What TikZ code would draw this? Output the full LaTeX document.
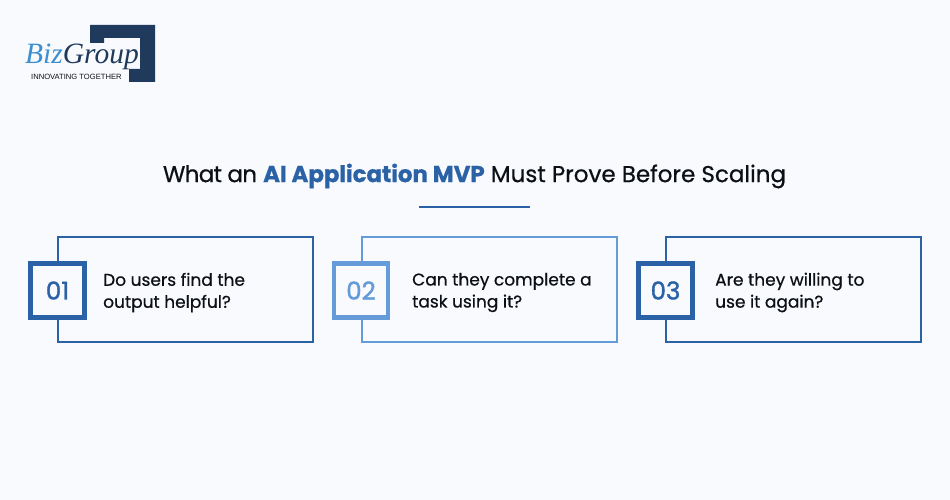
\documentclass[tikz,border=0pt]{standalone}
\usepackage{fontspec}
\setmainfont{Poppins}
\newfontfamily\logofont{Liberation Serif}
\newfontfamily\logosans{Liberation Sans}
\definecolor{bgc}{HTML}{F8FAFD}
\definecolor{midblue}{HTML}{2B62A6}
\definecolor{lightblue}{HTML}{659BD8}
\definecolor{navy}{HTML}{1F3A5C}
\definecolor{inkc}{HTML}{0C0F16}
\definecolor{bizblue}{HTML}{3E8FCF}
\tikzset{
  x=1pt,y=-1pt,
  card/.style={draw=#1,line width=1.8pt,fill=none,minimum width=255.6pt,minimum height=105pt,anchor=north west,inner sep=0,outer sep=0},
  badge/.style={draw=#1,line width=4.6pt,fill=bgc,minimum width=54pt,minimum height=54pt,inner sep=0,outer sep=0,text=#1,font=\fontsize{24.5}{25}\selectfont\addfontfeatures{FakeBold=1.5}},
  question/.style={anchor=west,align=left,text=inkc,inner sep=0,font=\fontsize{17}{22}\selectfont\addfontfeatures{FakeBold=0.6}},
}
\begin{document}
\begin{tikzpicture}
\useasboundingbox (0,0) rectangle (950,500);
\fill[bgc] (0,0) rectangle (950,500);
% logo
\fill[navy] (90,25) -- (155,25) -- (155,82) -- (129,82) -- (129,69) -- (140,69) -- (140,38) -- (104,38) -- (104,43) -- (90,43) -- cycle;
\node[inner sep=0,anchor=base west,font=\logofont\itshape\fontsize{29.5}{30}\selectfont] (logoname) at (25,63.5) {\textcolor{bizblue}{Biz}\textcolor{navy}{Group}};
\node[inner sep=0,anchor=base west,text=inkc,font=\logosans\fontsize{7.6}{8}\selectfont] (logotag) at (31,79.5) {INNOVATING TOGETHER};
% title
\node[inner sep=0,text=inkc,font=\fontsize{23}{28}\selectfont\addfontfeatures{FakeBold=0.6}] (title) at (474.5,176) {{\addfontfeatures{LetterSpace=-3}What an} \textcolor{midblue}{\bfseries\addfontfeatures{LetterSpace=-0.5}AI Application MVP} Must Prove Before Scaling};
\coordinate (ruleL) at (419,207);
\coordinate (ruleR) at (530,207);
\draw[midblue,line width=1.6pt] (ruleL) -- (ruleR);
% cards
\node[card=midblue] (c1) at (57.7,237.3) {};
\node[card=lightblue] (c2) at (361.7,237.3) {};
\node[card=midblue] (c3) at (665.7,237.3) {};
\node[badge=midblue] (b1) at (57.5,290.5) {01};
\node[badge=lightblue] (b2) at (361,290.5) {02};
\node[badge=midblue] (b3) at (665.5,290.5) {03};
\node[question] (q1) at (103,292.5) {Do users find the\\output helpful?};
\node[question] (q2) at (412,292.5) {Can they complete a\\task using it?};
\node[question] (q3) at (715,292.5) {Are they willing to\\use it again?};
\end{tikzpicture}
\end{document}
